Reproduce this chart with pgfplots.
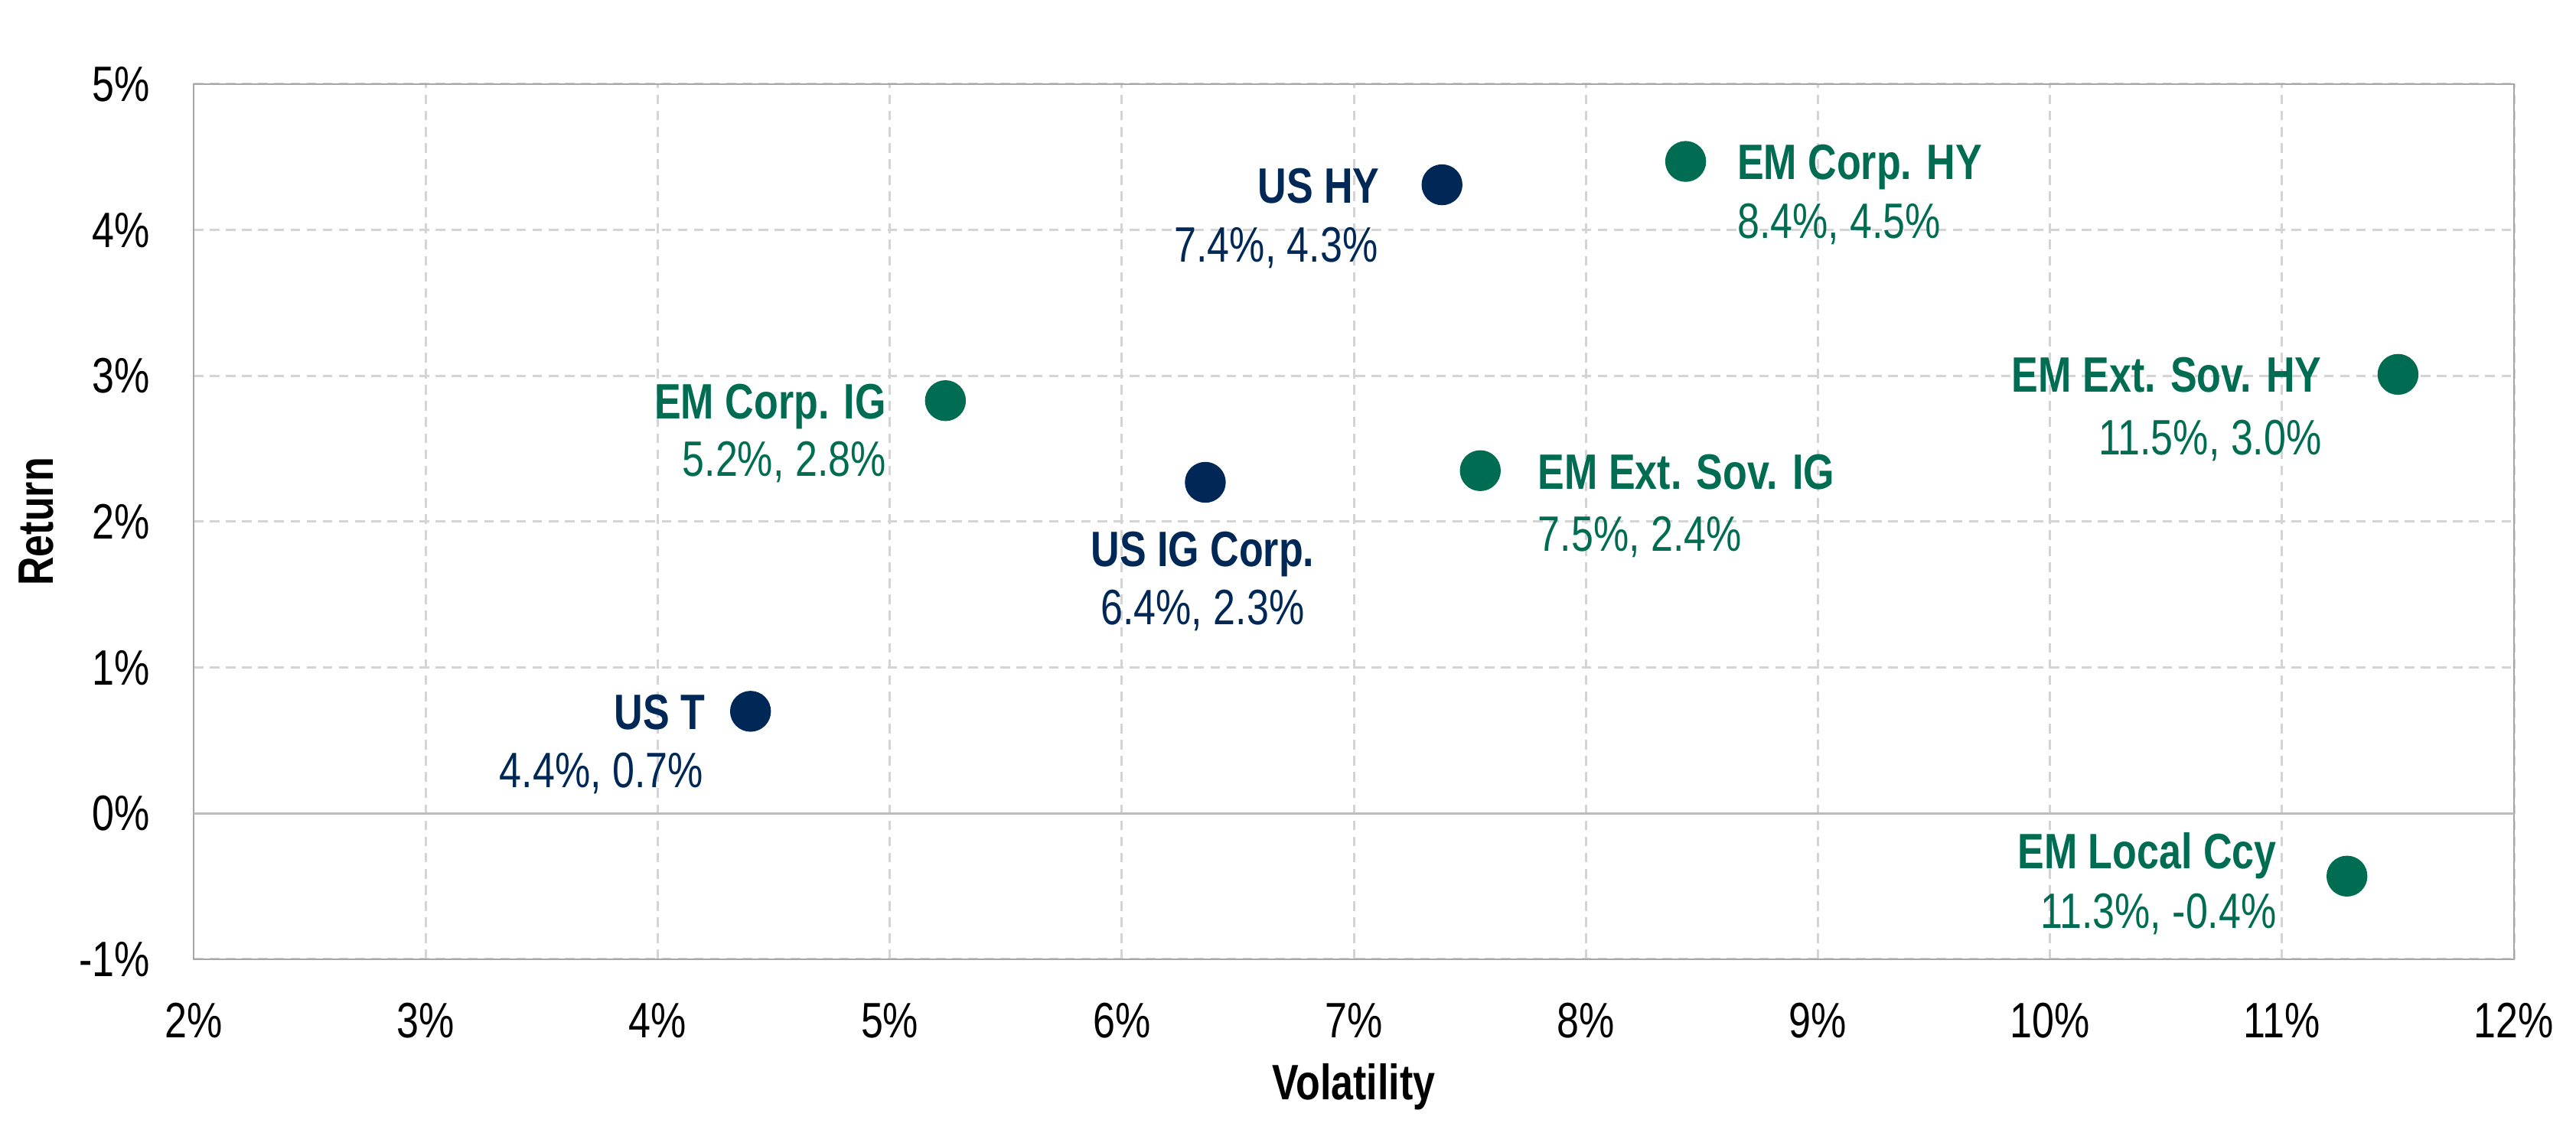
\documentclass[border=0pt]{standalone}
\usepackage{fontspec}
\setmainfont{Liberation Sans}[FakeStretch=0.8]
\usepackage{pgfplots}
\pgfplotsset{compat=1.18}
\definecolor{navy}{HTML}{002856}
\definecolor{emgreen}{HTML}{006C52}
\definecolor{gridgray}{HTML}{D4D4D4}
\definecolor{framegray}{HTML}{A6A6A6}
\begin{document}
\fontsize{18.5}{22}\selectfont
\begin{tikzpicture}
\useasboundingbox (-2.53cm,-2.31cm) rectangle (31.13cm,12.54cm);
\begin{axis}[
  scale only axis,
  width=30.32cm, height=11.44cm,
  xmin=2, xmax=12, ymin=-1, ymax=5,
  xtick={2,3,4,5,6,7,8,9,10,11,12},
  xticklabels={2\%,3\%,4\%,5\%,6\%,7\%,8\%,9\%,10\%,11\%,12\%},
  ytick={-1,0,1,2,3,4,5},
  yticklabels={-1\%,0\%,1\%,2\%,3\%,4\%,5\%},
  extra y ticks={0},
  extra y tick labels={},
  extra y tick style={grid=major, major grid style={solid, draw=framegray!75, line width=0.7pt}},
  major tick length=0pt,
  tick style={draw=none},
  grid=major,
  major grid style={draw=gridgray, line width=0.85pt, dash pattern=on 3.6pt off 2.4pt},
  axis line style={draw=framegray, line width=0.8pt},
  xticklabel style={inner sep=0pt, yshift=-16pt},
  yticklabel style={inner sep=0pt, xshift=-16pt},
  xlabel={\bfseries Volatility},
  ylabel={\bfseries Return},
  xlabel style={at={(axis description cs:0.5,-0.146)}, anchor=center},
  ylabel style={at={(axis description cs:-0.0679,0.5)}, anchor=center},
  clip=false,
  axis on top=false,
]
\addplot[only marks, mark=*, mark size=7.4pt, color=navy, mark options={draw=none}]
  coordinates {(4.40,0.70) (6.36,2.27) (7.38,4.31)};
\addplot[only marks, mark=*, mark size=7.4pt, color=emgreen, mark options={draw=none}]
  coordinates {(5.24,2.83) (8.43,4.47) (7.545,2.35) (11.50,3.01) (11.28,-0.43)};

% navy labels
\node[anchor=base east, inner sep=0pt, text=navy, font=\bfseries, xshift=-16.8pt, yshift=-6.7pt] at (axis cs:4.40,0.70) {US T};
\node[anchor=base east, inner sep=0pt, text=navy, xshift=-17.4pt, yshift=-28.3pt] at (axis cs:4.40,0.70) {4.4\%, 0.7\%};
\node[anchor=base east, inner sep=0pt, text=navy, font=\bfseries, xshift=-23pt, yshift=-6.7pt] at (axis cs:7.38,4.31) {US HY};
\node[anchor=base east, inner sep=0pt, text=navy, xshift=-23.6pt, yshift=-28.6pt] at (axis cs:7.38,4.31) {7.4\%, 4.3\%};
\node[anchor=base, inner sep=0pt, text=navy, font=\bfseries, xshift=-1pt, yshift=-31.2pt] at (axis cs:6.36,2.27) {US IG Corp.};
\node[anchor=base, inner sep=0pt, text=navy, xshift=-1pt, yshift=-53pt] at (axis cs:6.36,2.27) {6.4\%, 2.3\%};

% green labels
\node[anchor=base east, inner sep=0pt, text=emgreen, font=\bfseries, xshift=-21.9pt, yshift=-6.7pt] at (axis cs:5.24,2.83) {EM Corp. IG};
\node[anchor=base east, inner sep=0pt, text=emgreen, xshift=-21.9pt, yshift=-28pt] at (axis cs:5.24,2.83) {5.2\%, 2.8\%};
\node[anchor=base west, inner sep=0pt, text=emgreen, font=\bfseries, xshift=19pt, yshift=-6.7pt] at (axis cs:8.43,4.47) {EM Corp. HY};
\node[anchor=base west, inner sep=0pt, text=emgreen, xshift=19pt, yshift=-28.6pt] at (axis cs:8.43,4.47) {8.4\%, 4.5\%};
\node[anchor=base west, inner sep=0pt, text=emgreen, font=\bfseries, xshift=21.3pt, yshift=-7pt] at (axis cs:7.545,2.35) {EM Ext. Sov. IG};
\node[anchor=base west, inner sep=0pt, text=emgreen, xshift=21.3pt, yshift=-30pt] at (axis cs:7.545,2.35) {7.5\%, 2.4\%};
\node[anchor=base east, inner sep=0pt, text=emgreen, font=\bfseries, xshift=-28.2pt, yshift=-6.7pt] at (axis cs:11.50,3.01) {EM Ext. Sov. HY};
\node[anchor=base east, inner sep=0pt, text=emgreen, xshift=-28.2pt, yshift=-30pt] at (axis cs:11.50,3.01) {11.5\%, 3.0\%};
\node[anchor=base east, inner sep=0pt, text=emgreen, font=\bfseries, xshift=-26pt, yshift=2.7pt] at (axis cs:11.28,-0.43) {EM Local Ccy};
\node[anchor=base east, inner sep=0pt, text=emgreen, xshift=-26pt, yshift=-19.5pt] at (axis cs:11.28,-0.43) {11.3\%, -0.4\%};
\end{axis}
\end{tikzpicture}
\end{document}
